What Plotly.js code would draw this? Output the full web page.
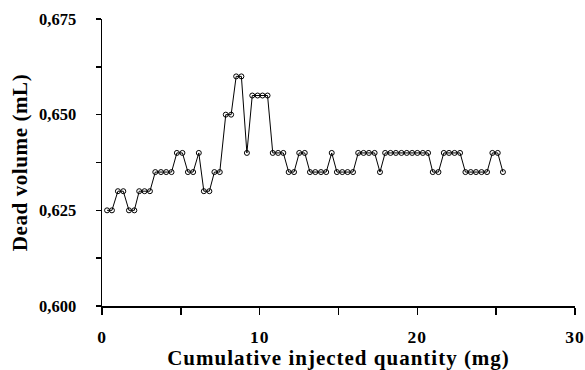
<!DOCTYPE html>
<html>
<head>
<meta charset="utf-8">
<script src="https://cdn.plot.ly/plotly-3.0.1.min.js"></script>
<style>
html,body{margin:0;padding:0;background:#fff;}
#chart{width:585px;height:370px;}
#chart .xtitle{letter-spacing:1px;}
#chart .ytitle{letter-spacing:0.6px;}
#chart .xtick text{letter-spacing:1px;}
</style>
</head>
<body>
<div id="chart"></div>
<script>
// Cumulative injected quantity (mg)
const quantity = [0.32,0.63,1.01,1.35,1.71,2.05,2.36,2.70,3.04,3.38,3.74,4.07,4.41,4.75,5.10,5.45,5.78,6.14,6.46,6.81,
  7.13,7.47,7.85,8.19,8.51,8.84,9.19,9.53,9.87,10.18,10.50,10.83,11.17,11.50,11.84,12.18,12.51,12.86,13.19,13.53,
  13.89,14.22,14.57,14.90,15.24,15.58,15.92,16.25,16.59,16.93,17.29,17.63,17.96,18.30,18.64,18.99,19.33,19.67,20.00,20.35,
  20.68,20.98,21.34,21.68,22.01,22.36,22.71,23.05,23.39,23.72,24.07,24.42,24.76,25.10,25.43];
// Dead volume (mL)
const deadVolume = [0.625,0.625,0.630,0.630,0.625,0.625,0.630,0.630,0.630,0.635,0.635,0.635,0.635,0.640,0.640,0.635,0.635,0.640,0.630,0.630,
  0.635,0.635,0.650,0.650,0.660,0.660,0.640,0.655,0.655,0.655,0.655,0.640,0.640,0.640,0.635,0.635,0.640,0.640,0.635,0.635,
  0.635,0.635,0.640,0.635,0.635,0.635,0.635,0.640,0.640,0.640,0.640,0.635,0.640,0.640,0.640,0.640,0.640,0.640,0.640,0.640,
  0.640,0.635,0.635,0.640,0.640,0.640,0.640,0.635,0.635,0.635,0.635,0.635,0.640,0.640,0.635];
const xTickVals = [0,10,20,30];
const xTickText = ['0','10','20','30'];
const yTickVals = [0.600,0.625,0.650,0.675];
const yTickText = ['0,600','0,625','0,650','0,675'];

const fontFam = '"Liberation Serif","Times New Roman",serif';
const bold = s => '<b>' + s + '</b>';

const trace = {
  x: quantity, y: deadVolume, type: 'scatter', mode: 'lines+markers',
  line: {color: '#000', width: 1},
  marker: {symbol: 'circle-open', size: 5, color: '#000', line: {width: 1, color: '#000'}},
  hoverinfo: 'skip', showlegend: false
};

const layout = {
  width: 585, height: 370,
  margin: {l: 102, r: 10, t: 19, b: 64, pad: 0},
  paper_bgcolor: '#fff', plot_bgcolor: '#fff',
  font: {family: fontFam, color: '#000'},
  xaxis: {
    range: [0, 30], tickmode: 'array', tickvals: xTickVals, ticktext: xTickText.map(bold),
    ticks: 'outside', ticklen: 7, tickwidth: 1.5, tickcolor: '#000',
    minor: {dtick: 5, tick0: 0, ticks: 'outside', ticklen: 7, tickwidth: 1.5, tickcolor: '#000', showgrid: false},
    showline: true, linecolor: '#000', linewidth: 1.5, showgrid: false, zeroline: false,
    tickfont: {family: fontFam, size: 17.5, color: '#000'},
    ticklabelstandoff: 7,
    title: {text: bold('Cumulative injected quantity (mg)'), font: {family: fontFam, size: 21, color: '#000'}, standoff: 11}
  },
  yaxis: {
    range: [0.600, 0.675], tickmode: 'array', tickvals: yTickVals, ticktext: yTickText.map(bold),
    ticks: 'outside', ticklen: 5, tickwidth: 1.5, tickcolor: '#000',
    minor: {dtick: 0.0125, tick0: 0.600, ticks: 'outside', ticklen: 5, tickwidth: 1.5, tickcolor: '#000', showgrid: false},
    showline: true, linecolor: '#000', linewidth: 1.5, showgrid: false, zeroline: false,
    tickfont: {family: fontFam, size: 16.5, color: '#000'},
    ticklabelstandoff: 16,
    title: {text: bold('Dead volume (mL)'), font: {family: fontFam, size: 21, color: '#000'}, standoff: 5}
  }
};

Plotly.newPlot('chart', [trace], layout, {displayModeBar: false, staticPlot: true});
</script>
</body>
</html>
